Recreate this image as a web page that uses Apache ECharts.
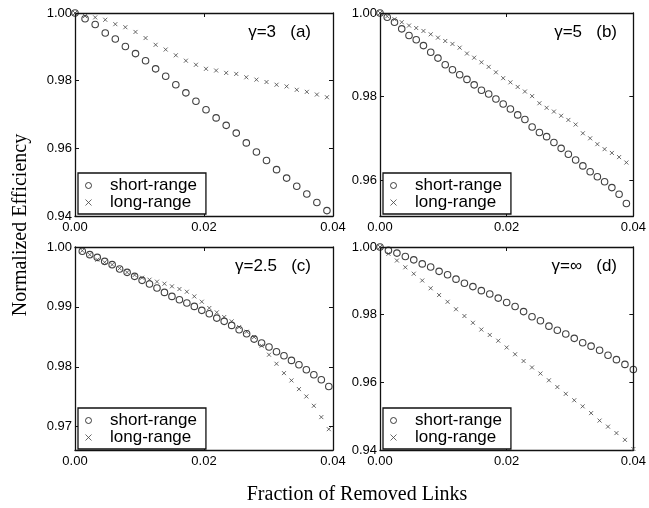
<!DOCTYPE html>
<html>
<head>
<meta charset="utf-8">
<script src="https://cdn.jsdelivr.net/npm/echarts@6.0.0/dist/echarts.min.js"></script>
<style>
html, body { margin: 0; padding: 0; background: #fff; }
#main { width: 649px; height: 508px; }
</style>
</head>
<body>
<div id="main"></div>
<script>
// fraction of removed links (x) for each panel
var xA = [0, 0.00156, 0.00313, 0.00469, 0.00625, 0.00781, 0.00938, 0.01094, 0.0125, 0.01406, 0.01563, 0.01719, 0.01875,
  0.02031, 0.02188, 0.02344, 0.025, 0.02656, 0.02813, 0.02969, 0.03125, 0.03281, 0.03438, 0.03594, 0.0375, 0.03906];
var xB = [0, 0.00114, 0.00229, 0.00343, 0.00458, 0.00572, 0.00686, 0.00801, 0.00915, 0.0103, 0.01144, 0.01258, 0.01373,
  0.01487, 0.01602, 0.01716, 0.0183, 0.01945, 0.02059, 0.02174, 0.02288, 0.02402, 0.02517, 0.02631, 0.02746, 0.0286,
  0.02974, 0.03089, 0.03203, 0.03318, 0.03432, 0.03546, 0.03661, 0.03775, 0.0389];
var xC = [0.00113, 0.00229, 0.00345, 0.0046, 0.00576, 0.00692, 0.00808, 0.00924, 0.0104, 0.01155, 0.01271, 0.01387,
  0.01503, 0.01619, 0.01734, 0.0185, 0.01966, 0.02082, 0.02198, 0.02313, 0.02429, 0.02545, 0.02661, 0.02777, 0.02893,
  0.03008, 0.03124, 0.0324, 0.03356, 0.03472, 0.03587, 0.03703, 0.03819, 0.03935];
var xD = [0, 0.00133, 0.00267, 0.004, 0.00533, 0.00667, 0.008, 0.00933, 0.01067, 0.012, 0.01333, 0.01467, 0.016,
  0.01733, 0.01867, 0.02, 0.02133, 0.02267, 0.024, 0.02533, 0.02667, 0.028, 0.02933, 0.03067, 0.032, 0.03333,
  0.03467, 0.036, 0.03733, 0.03867, 0.04];

// normalized efficiency, (a) gamma=3
var shortA = [1.0000, 0.9983, 0.9966, 0.9941, 0.9923, 0.9901, 0.9880, 0.9859, 0.9835, 0.9813, 0.9788, 0.9764, 0.9739,
  0.9714, 0.9690, 0.9668, 0.9645, 0.9616, 0.9589, 0.9564, 0.9537, 0.9512, 0.9488, 0.9465, 0.9440, 0.9416];
var longA = [1.0000, 0.9991, 0.9987, 0.9980, 0.9967, 0.9958, 0.9944, 0.9926, 0.9906, 0.9892, 0.9875, 0.9859, 0.9847,
  0.9835, 0.9830, 0.9823, 0.9820, 0.9810, 0.9803, 0.9796, 0.9788, 0.9783, 0.9773, 0.9767, 0.9759, 0.9751];
// (b) gamma=5
var shortB = [1.0000, 0.9990, 0.9978, 0.9962, 0.9946, 0.9936, 0.9922, 0.9906, 0.9892, 0.9876, 0.9864, 0.9852, 0.9841,
  0.9828, 0.9815, 0.9806, 0.9794, 0.9782, 0.9770, 0.9756, 0.9745, 0.9727, 0.9714, 0.9704, 0.9690, 0.9676, 0.9662,
  0.9648, 0.9634, 0.9620, 0.9608, 0.9596, 0.9582, 0.9566, 0.9544];
var longB = [1.0000, 0.9992, 0.9985, 0.9978, 0.9970, 0.9964, 0.9957, 0.9949, 0.9941, 0.9933, 0.9926, 0.9917, 0.9903,
  0.9893, 0.9882, 0.9871, 0.9858, 0.9844, 0.9834, 0.9823, 0.9812, 0.9801, 0.9784, 0.9773, 0.9764, 0.9754, 0.9744,
  0.9733, 0.9712, 0.9700, 0.9686, 0.9674, 0.9665, 0.9655, 0.9642];
// (c) gamma=2.5
var shortC = [0.99928, 0.99872, 0.99827, 0.9976, 0.99705, 0.99632, 0.99577, 0.9951, 0.99443, 0.99382, 0.99315, 0.99242,
  0.99175, 0.9912, 0.99064, 0.99008, 0.98942, 0.98886, 0.98813, 0.98758, 0.98691, 0.98618, 0.98552, 0.98462, 0.98396,
  0.98329, 0.98251, 0.98184, 0.98106, 0.98033, 0.9795, 0.97866, 0.97783, 0.97671];
var longC = [0.99939, 0.99872, 0.99788, 0.99744, 0.99705, 0.99643, 0.99577, 0.99532, 0.99487, 0.99454, 0.99421, 0.99387,
  0.99343, 0.99298, 0.99253, 0.99175, 0.99086, 0.98981, 0.98908, 0.9883, 0.98758, 0.98663, 0.98585, 0.98496, 0.98351,
  0.98201, 0.9805, 0.97894, 0.97772, 0.97627, 0.97504, 0.97348, 0.97159, 0.96958];
// (d) gamma=infinity
var shortD = [1.0000, 0.9990, 0.9982, 0.9972, 0.9962, 0.9950, 0.9941, 0.9928, 0.9918, 0.9905, 0.9893, 0.9883, 0.9871,
  0.9861, 0.9849, 0.9836, 0.9824, 0.9809, 0.9794, 0.9782, 0.9766, 0.9754, 0.9743, 0.9730, 0.9717, 0.9707, 0.9695,
  0.9680, 0.9667, 0.9653, 0.9638];
var longD = [1.0000, 0.9980, 0.9960, 0.9940, 0.9921, 0.9901, 0.9878, 0.9858, 0.9838, 0.9816, 0.9796, 0.9776, 0.9756,
  0.9740, 0.9723, 0.9703, 0.9683, 0.9663, 0.9644, 0.9626, 0.9606, 0.9586, 0.9566, 0.9547, 0.9529, 0.9509, 0.9487,
  0.9469, 0.9450, 0.9430, 0.9403];

// tick labels
var xTicks = [0, 0.02, 0.04];
var yTicksA = [0.94, 0.96, 0.98, 1.00];
var yTicksB = [0.96, 0.98, 1.00];
var yTicksC = [0.97, 0.98, 0.99, 1.00];
var yTicksD = [0.94, 0.96, 0.98, 1.00];
var seriesNames = ['short-range', 'long-range'];
var panelLabels = ['\u03b3=3   (a)', '\u03b3=5   (b)', '\u03b3=2.5   (c)', '\u03b3=\u221e   (d)'];

var FONT = 'Liberation Sans';
var SERIF = 'Liberation Serif';
var CROSS = 'path://M0,0L10,10M10,0L0,10';

var myChart = echarts.init(document.getElementById('main'), null, { renderer: 'canvas' });

// panel layout: grid position, y range, y ticks, data
var panels = [
  { left: 75,  top: 13,  yMin: 0.94,   yTicks: yTicksA, xs: xA, s: shortA, l: longA, lgLeft: 78,  lgTop: 173, tRight: 338, tTop: 24 },
  { left: 380, top: 13,  yMin: 0.9514, yTicks: yTicksB, xs: xB, s: shortB, l: longB, lgLeft: 383, lgTop: 173, tRight: 32,  tTop: 24 },
  { left: 75,  top: 247, yMin: 0.9661, yTicks: yTicksC, xs: xC, s: shortC, l: longC, lgLeft: 78,  lgTop: 408, tRight: 338, tTop: 258 },
  { left: 380, top: 247, yMin: 0.94,   yTicks: yTicksD, xs: xD, s: shortD, l: longD, lgLeft: 383, lgTop: 408, tRight: 32,  tTop: 258 }
];

function pairs(xs, ys) {
  return xs.map(function (x, i) { return [x, ys[i]]; });
}

function axisBase(ticks, showLabel, pos) {
  return {
    type: 'value',
    position: pos,
    axisLine: { show: true, onZero: false, lineStyle: { color: '#111', width: 1.3 } },
    axisTick: { show: true, inside: true, length: 4, customValues: ticks, lineStyle: { color: '#111', width: 1 } },
    splitLine: { show: false },
    axisLabel: {
      show: showLabel,
      customValues: ticks,
      formatter: function (v) { return v.toFixed(2); },
      fontFamily: FONT,
      fontSize: 13,
      color: '#000',
      margin: 3
    }
  };
}

var grids = [], xAxes = [], yAxes = [], series = [], legends = [], titles = [];

panels.forEach(function (p, gi) {
  grids.push({ left: p.left, top: p.top, width: 258, height: 203, show: false });

  var xb = axisBase(xTicks, true, 'bottom');
  xb.gridIndex = gi; xb.min = 0; xb.max = 0.04; xb.axisLabel.margin = 5;
  var xt = axisBase(xTicks, false, 'top');
  xt.gridIndex = gi; xt.min = 0; xt.max = 0.04;
  xAxes.push(xb, xt);

  var yl = axisBase(p.yTicks, true, 'left');
  yl.gridIndex = gi; yl.min = p.yMin; yl.max = 1.0;
  var yr = axisBase(p.yTicks, false, 'right');
  yr.gridIndex = gi; yr.min = p.yMin; yr.max = 1.0;
  yAxes.push(yl, yr);

  series.push({
    type: 'scatter',
    name: seriesNames[0],
    xAxisIndex: gi * 2,
    yAxisIndex: gi * 2,
    data: pairs(p.xs, p.s),
    symbol: 'circle',
    symbolSize: 6.5,
    itemStyle: { color: 'rgba(0,0,0,0)', borderColor: '#111', borderWidth: 1.1 },
    clip: false,
    silent: true
  });
  series.push({
    type: 'scatter',
    name: seriesNames[1],
    xAxisIndex: gi * 2,
    yAxisIndex: gi * 2,
    data: pairs(p.xs, p.l),
    symbol: CROSS,
    symbolSize: 4,
    itemStyle: { color: 'rgba(0,0,0,0)', borderColor: '#444', borderWidth: 1 },
    clip: false,
    silent: true
  });

  legends.push({
    left: p.lgLeft,
    top: p.lgTop,
    orient: 'vertical',
    selectedMode: false,
    backgroundColor: '#fff',
    borderColor: '#111',
    borderWidth: 1.3,
    padding: [4, 9, 3, 7],
    itemGap: 0,
    itemWidth: 33,
    itemHeight: 6,
    textStyle: { fontFamily: FONT, fontSize: 17, color: '#000' },
    data: [
      { name: seriesNames[0], icon: 'circle', itemStyle: { color: 'rgba(0,0,0,0)', borderColor: '#111', borderWidth: 1 } },
      { name: seriesNames[1], icon: CROSS, itemStyle: { color: 'rgba(0,0,0,0)', borderColor: '#444', borderWidth: 1 } }
    ]
  });

  titles.push({
    text: panelLabels[gi],
    right: p.tRight,
    top: p.tTop,
    padding: 0,
    textStyle: { fontFamily: FONT, fontSize: 17, fontWeight: 'normal', color: '#000' }
  });
});

var option = {
  animation: false,
  backgroundColor: '#fff',
  title: titles,
  legend: legends,
  grid: grids,
  xAxis: xAxes,
  yAxis: yAxes,
  series: series,
  graphic: [
    {
      type: 'text',
      x: 21,
      y: 225,
      rotation: Math.PI / 2,
      style: {
        text: 'Normalized Efficiency',
        font: '20px "' + SERIF + '"',
        fill: '#000',
        textAlign: 'center',
        textVerticalAlign: 'middle'
      }
    },
    {
      type: 'text',
      x: 357,
      y: 495,
      style: {
        text: 'Fraction of Removed Links',
        font: '20px "' + SERIF + '"',
        fill: '#000',
        textAlign: 'center',
        textVerticalAlign: 'middle'
      }
    }
  ]
};

myChart.setOption(option);
</script>
</body>
</html>
